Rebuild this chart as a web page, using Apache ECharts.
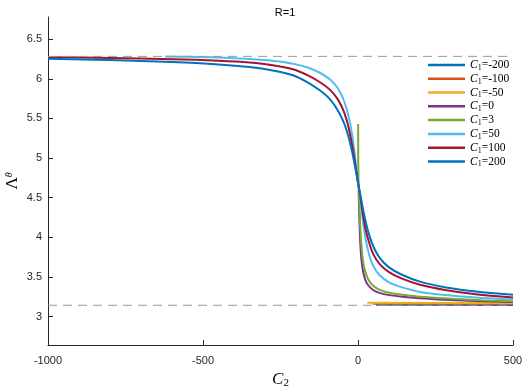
<!DOCTYPE html>
<html>
<head>
<meta charset="utf-8">
<script src="https://cdn.jsdelivr.net/npm/echarts@6/dist/echarts.min.js"></script>
<style>
  html, body { margin: 0; padding: 0; background: #fff; }
  #chart { width: 523px; height: 386px; }
</style>
</head>
<body>
<div id="chart"></div>
<script>
'use strict';
// Λ^θ vs C2 for several C1, R=1

const xTicks = [-1000, -500, 0, 500];
const yTicks = [3, 3.5, 4, 4.5, 5, 5.5, 6, 6.5];
const yRange = [2.64, 6.78];
const xRange = [-1000, 500];
const lambdaLo = 3.1416;   // π
const lambdaHi = 6.2832;   // 2π

const c1Labels = ['-200', '-100', '-50', '0', '3', '50', '100', '200'];
const c1Colors = ['#0072BD', '#D95319', '#EDB120', '#7E2F8E', '#77AC30', '#4DBEEE', '#A2142F', '#0072BD'];

// [C2, Λ^θ]
const curveM200 = [[58, 3.148], [500, 3.146]];
const curveM100 = [[48, 3.16], [500, 3.158]];
const curveM50 = [[30, 3.173], [500, 3.171]];
const curve0 = [[2, 4.58], [3, 4.44], [4.5, 4.22], [6.5, 4.00], [9, 3.82], [13, 3.65], [19, 3.52], [27, 3.43],
  [38, 3.37], [55, 3.32], [80, 3.285], [120, 3.26], [180, 3.235], [260, 3.215], [380, 3.195], [500, 3.183]];
const curve3 = [[0.5, 5.43], [0.8, 5.0], [1.5, 4.75], [3, 4.55], [5, 4.35], [8, 4.08], [12, 3.85], [17, 3.68],
  [24, 3.56], [34, 3.46], [48, 3.39], [65, 3.345], [90, 3.31], [130, 3.28], [200, 3.25], [300, 3.225],
  [400, 3.205], [500, 3.193]];
const curve50 = [[-622, 6.280], [-550, 6.277], [-450, 6.268], [-350, 6.25], [-275, 6.228], [-210, 6.19],
  [-160, 6.14], [-120, 6.07], [-90, 5.99], [-65, 5.88], [-45, 5.72], [-30, 5.52], [-18, 5.27], [-8, 4.97],
  [0, 4.70], [6, 4.52], [14, 4.26], [24, 3.99], [36, 3.78], [50, 3.63], [70, 3.52], [100, 3.43], [140, 3.37],
  [200, 3.31], [280, 3.27], [380, 3.24], [500, 3.215]];
const curve100 = [[-1000, 6.272], [-800, 6.263], [-600, 6.248], [-450, 6.228], [-350, 6.205], [-275, 6.172],
  [-210, 6.12], [-160, 6.04], [-120, 5.95], [-90, 5.86], [-65, 5.74], [-45, 5.58], [-30, 5.38], [-18, 5.14],
  [-8, 4.90], [0, 4.69], [6, 4.55], [14, 4.34], [24, 4.11], [36, 3.93], [50, 3.78], [70, 3.66], [100, 3.56],
  [140, 3.48], [200, 3.40], [280, 3.335], [380, 3.28], [500, 3.24]];
const curve200 = [[-1000, 6.252], [-800, 6.236], [-600, 6.212], [-450, 6.182], [-350, 6.148], [-275, 6.105],
  [-210, 6.045], [-160, 5.95], [-120, 5.845], [-90, 5.74], [-65, 5.60], [-45, 5.44], [-30, 5.26], [-18, 5.06],
  [-8, 4.86], [0, 4.69], [6, 4.57], [14, 4.40], [24, 4.21], [36, 4.03], [50, 3.88], [70, 3.74], [100, 3.62],
  [140, 3.53], [200, 3.44], [280, 3.37], [380, 3.315], [500, 3.275]];

const curves = [curveM200, curveM100, curveM50, curve0, curve3, curve50, curve100, curve200];

const AX = '#262626';
const SANS = "'Liberation Sans', Arial, sans-serif";
const SERIF = "'Liberation Serif', 'DejaVu Serif', serif";

function legendName(i) { return 'C1=' + c1Labels[i]; }

const series = curves.map((d, i) => ({
  name: legendName(i), type: 'line', data: d, showSymbol: false, symbol: 'none',
  smooth: 0.3, clip: true,
  lineStyle: { color: c1Colors[i], width: 2 }, itemStyle: { color: c1Colors[i] }, z: 2 + i
}));

[lambdaLo, lambdaHi].forEach(v => series.push({
  type: 'line', data: [[xRange[0], v], [xRange[1], v]], symbol: 'none', silent: true, z: 20,
  lineStyle: { color: '#999999', width: 1, type: [9, 6] }
}));

const chart = echarts.init(document.getElementById('chart'), null, { renderer: 'canvas' });
chart.setOption({
  animation: false,
  title: {
    text: 'R=1', left: 280, top: 2, textAlign: 'center',
    textStyle: { fontFamily: SANS, fontSize: 11, fontWeight: 'normal', color: '#000' }
  },
  grid: { left: 48, right: 10, top: 17, bottom: 41, outerBoundsMode: 'none' },
  legend: {
    left: 428, top: 58, padding: 0, orient: 'vertical', itemGap: 0, itemWidth: 37, itemHeight: 2.5, icon: 'rect',
    data: curves.map((d, i) => legendName(i)),
    formatter: n => '{i|C}{s|1}{r|' + n.slice(2) + '}',
    textStyle: {
      lineHeight: 13.8,
      rich: {
        i: { fontFamily: SERIF, fontStyle: 'italic', fontSize: 11.5, color: '#000', lineHeight: 13.8 },
        s: { fontFamily: SERIF, fontSize: 8, color: '#000', verticalAlign: 'bottom', lineHeight: 11 },
        r: { fontFamily: SERIF, fontSize: 11.5, color: '#000', lineHeight: 13.8 }
      }
    }
  },
  xAxis: {
    type: 'value', min: xRange[0], max: xRange[1], interval: 500,
    name: '{c|C}{s|2}', nameLocation: 'middle', nameGap: 26,
    nameTextStyle: {
      rich: {
        c: { fontFamily: SERIF, fontStyle: 'italic', fontSize: 17, color: '#000', lineHeight: 18 },
        s: { fontFamily: SERIF, fontSize: 11, color: '#000', verticalAlign: 'bottom', lineHeight: 12 }
      }
    },
    axisLine: { onZero: false, lineStyle: { color: AX, width: 1 } },
    axisTick: { inside: true, length: 5, lineStyle: { color: AX } },
    axisLabel: { color: AX, fontFamily: SANS, fontSize: 11, margin: 10, customValues: xTicks, formatter: v => String(v) },
    splitLine: { show: false }
  },
  yAxis: {
    type: 'value', min: yRange[0], max: yRange[1],
    name: '{l|Λ}{t|θ}', nameLocation: 'middle', nameGap: 26, nameMoveOverlap: false,
    nameTextStyle: {
      rich: {
        l: { fontFamily: SERIF, fontSize: 17, color: '#000', lineHeight: 18 },
        t: { fontFamily: SERIF, fontStyle: 'italic', fontSize: 10, color: '#000', verticalAlign: 'top', lineHeight: 10 }
      }
    },
    axisLine: { onZero: false, lineStyle: { color: AX, width: 1 } },
    axisTick: { inside: true, length: 5, lineStyle: { color: AX }, customValues: yTicks },
    axisLabel: { color: AX, fontFamily: SANS, fontSize: 11, margin: 6, customValues: yTicks },
    splitLine: { show: false }
  },
  series
});
</script>
</body>
</html>
